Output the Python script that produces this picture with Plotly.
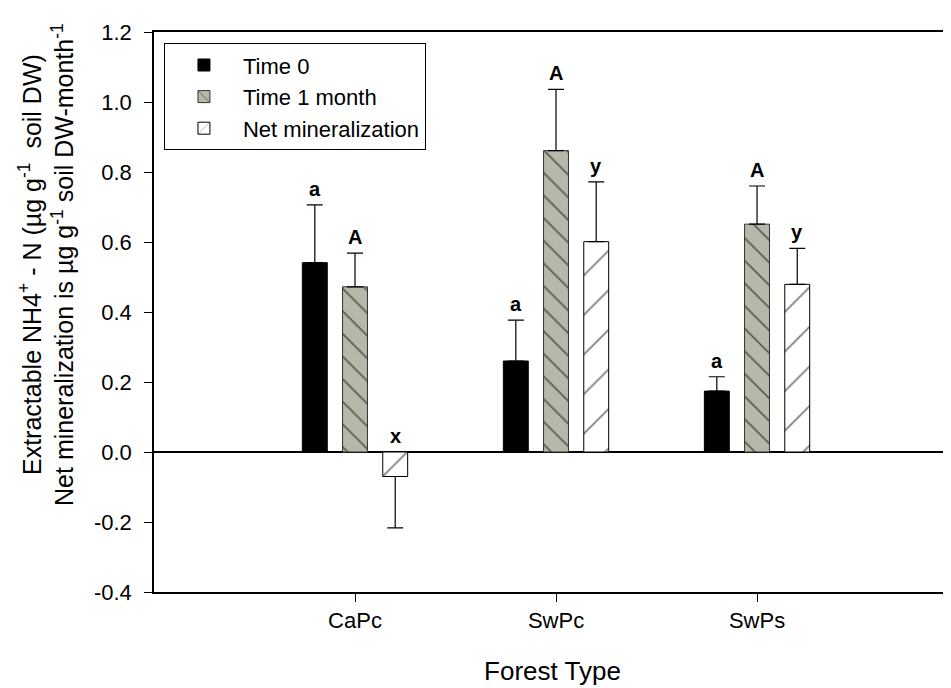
import plotly.graph_objects as go

# ---- data ----
categories = ["CaPc", "SwPc", "SwPs"]
time0 = [0.541, 0.260, 0.174]
time0_err = [0.165, 0.117, 0.041]
time1 = [0.472, 0.861, 0.651]
time1_err = [0.096, 0.175, 0.109]
netmin = [-0.070, 0.601, 0.479]
netmin_err_plus = [0.0, 0.171, 0.103]
netmin_err_minus = [0.147, 0.0, 0.0]
letters_time0 = ["a", "a", "a"]
letters_time1 = ["A", "A", "A"]
letters_net = ["x", "y", "y"]
y_tick_vals = [-0.4, -0.2, 0.0, 0.2, 0.4, 0.6, 0.8, 1.0, 1.2]
y_tick_text = ["-0.4", "-0.2", "0.0", "0.2", "0.4", "0.6", "0.8", "1.0", "1.2"]

FONT = "Liberation Sans, Arial, sans-serif"
GRAY = "rgb(184,184,170)"

fig = go.Figure()

fig.add_trace(go.Bar(
    name="Time 0", x=categories, y=time0,
    marker=dict(color="black", line=dict(color="black", width=1)),
    error_y=dict(type="data", symmetric=False, array=time0_err,
                 arrayminus=[0, 0, 0], color="black", thickness=1.2, width=8),
))
fig.add_trace(go.Bar(
    name="Time 1 month", x=categories, y=time1,
    marker=dict(color=GRAY, line=dict(color="#333333", width=1),
                pattern=dict(shape="\\", fgcolor="black", bgcolor=GRAY,
                             size=16, solidity=0.11)),
    error_y=dict(type="data", symmetric=False, array=time1_err,
                 arrayminus=[0, 0, 0], color="black", thickness=1.2, width=8),
))
fig.add_trace(go.Bar(
    name="Net mineralization", x=categories, y=netmin,
    marker=dict(color="white", line=dict(color="black", width=1),
                pattern=dict(shape="/", fgcolor="black", bgcolor="white",
                             size=28, solidity=0.065)),
    error_y=dict(type="data", symmetric=False, array=netmin_err_plus,
                 arrayminus=netmin_err_minus, color="black", thickness=1.2, width=8),
))

# significance letters above each bar
series = [
    (time0, time0_err, letters_time0, -40),
    (time1, time1_err, letters_time1, 0),
    (netmin, netmin_err_plus, letters_net, 40),
]
for vals, ep, labs, shift in series:
    for c, v, e, lab in zip(categories, vals, ep, labs):
        top = max(v + e, 0.0)
        fig.add_annotation(x=c, y=top, text="<b>%s</b>" % lab, showarrow=False,
                           xshift=shift, yshift=3, yanchor="bottom",
                           font=dict(family=FONT, size=20, color="black"))

# y axis title (two lines)
fig.add_annotation(
    xref="paper", yref="paper", x=-0.1355, y=0.584,
    text="Extractable NH4<sup>+</sup> - N (µg g<sup>-1</sup>  soil DW)<br>"
         "Net mineralization is µg g<sup>-1</sup> soil DW-month<sup>-1</sup>",
    textangle=-90, showarrow=False, xanchor="center", yanchor="middle",
    font=dict(family=FONT, size=25, color="black"),
)

fig.update_layout(
    width=943, height=680,
    margin=dict(l=146, r=0, t=24, b=96),
    paper_bgcolor="white", plot_bgcolor="white",
    barmode="group", bargap=0.4, bargroupgap=0.38,
    font=dict(family=FONT, color="black"),
    showlegend=True,
    legend=dict(x=0.0125, y=0.98, xanchor="left", yanchor="top",
                bgcolor="white", bordercolor="black", borderwidth=1,
                font=dict(family=FONT, size=22, color="black"),
                itemwidth=68, tracegroupgap=0),
    xaxis=dict(
        range=[-1, 2.965], showline=True, linecolor="black", linewidth=1.5,
        mirror=True, ticks="outside", ticklen=8, tickcolor="black",
        tickfont=dict(family=FONT, size=22, color="black"),
        showgrid=False, zeroline=False,
        title=dict(text="Forest Type", font=dict(family=FONT, size=26, color="black"),
                   standoff=30),
    ),
    yaxis=dict(
        range=[-0.4, 1.2], tickvals=y_tick_vals, ticktext=y_tick_text,
        showline=True, linecolor="black", linewidth=1.5,
        ticks="outside", ticklen=8, tickcolor="black", ticklabelstandoff=8,
        tickfont=dict(family=FONT, size=22, color="black"),
        showgrid=False, zeroline=True, zerolinecolor="black", zerolinewidth=1.5,
    ),
)

fig.write_html("out.html")
